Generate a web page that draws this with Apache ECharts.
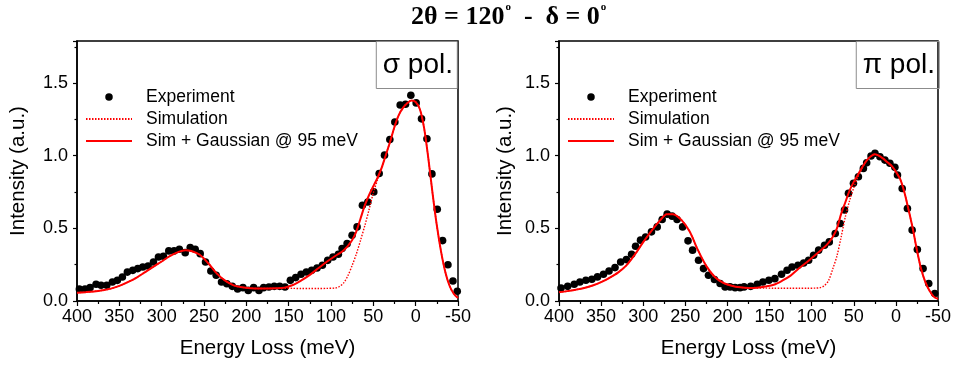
<!DOCTYPE html>
<html><head><meta charset="utf-8">
<script src="https://cdn.jsdelivr.net/npm/echarts@6/dist/echarts.min.js"></script>
<style>html,body{margin:0;padding:0;background:#fff}#c{width:954px;height:365px}</style>
</head><body><div id="c"></div>
<script>
// ---------- data ----------
const xTicks = [400, 350, 300, 250, 200, 150, 100, 50, 0, -50];
const yTicks = [0.0, 0.5, 1.0, 1.5];

// sigma polarisation: experiment
const sigmaExpE = [397.2,390.5,384.6,377.5,371.6,364.9,358.2,352.3,346.4,340.5,334.1,328.2,322.3,316.0,309.7,303.8,297.9,291.6,285.3,279.1,272.2,266.3,260.4,254.5,248.2,241.9,235.6,229.3,223.0,216.6,210.3,204.0,197.7,191.4,185.1,179.6,173.3,167.0,160.6,154.3,148.0,141.7,135.4,129.1,122.8,116.5,110.2,103.9,97.6,91.3,86.9,81.0,75.1,69.2,62.9,56.5,49.5,43.1,36.8,30.5,24.6,18.3,12.0,5.7,-0.6,-6.9,-13.3,-19.2,-25.5,-31.8,-38.1,-44.0,-49.1];
const sigmaExpI = [0.083,0.083,0.092,0.115,0.108,0.108,0.131,0.142,0.165,0.199,0.211,0.223,0.234,0.241,0.268,0.303,0.308,0.345,0.345,0.356,0.333,0.368,0.356,0.326,0.269,0.207,0.177,0.131,0.119,0.101,0.083,0.092,0.073,0.092,0.073,0.092,0.096,0.101,0.101,0.096,0.142,0.161,0.184,0.200,0.211,0.227,0.246,0.280,0.303,0.322,0.361,0.395,0.453,0.510,0.659,0.682,0.751,0.878,1.004,1.112,1.232,1.349,1.355,1.417,1.364,1.254,1.117,0.875,0.632,0.416,0.250,0.138,0.067];

// energy grid of the simulated curves (both panels)
const lineE = [400,390,380,370,360,350,340,330,320,310,300,290,280,272,265,255,245,235,225,215,205,195,185,175,165,155,145,135,125,115,105,95,90,85,80,75,70,65,60,55,50,45,40,35,30,25,20,15,10,5,0,-5,-10,-15,-20,-25,-30,-35,-40,-45,-50];

const sigmaFit = [0.057,0.061,0.066,0.074,0.085,0.104,0.130,0.160,0.197,0.235,0.272,0.310,0.338,0.349,0.344,0.318,0.260,0.190,0.140,0.108,0.094,0.088,0.086,0.086,0.087,0.092,0.110,0.142,0.180,0.225,0.270,0.310,0.328,0.350,0.380,0.420,0.480,0.570,0.660,0.730,0.790,0.850,0.920,1.010,1.100,1.200,1.280,1.330,1.362,1.380,1.370,1.320,1.190,0.980,0.740,0.520,0.340,0.200,0.105,0.050,0.020];
const sigmaSim = [0.057,0.061,0.066,0.074,0.085,0.104,0.130,0.160,0.197,0.235,0.272,0.310,0.338,0.349,0.344,0.318,0.260,0.190,0.140,0.108,0.094,0.088,0.086,0.086,0.087,0.088,0.087,0.086,0.086,0.086,0.087,0.089,0.100,0.125,0.175,0.245,0.325,0.420,0.520,0.630,0.745,0.835,0.915,1.010,1.100,1.200,1.280,1.330,1.362,1.380,1.370,1.320,1.190,0.980,0.740,0.520,0.340,0.200,0.105,0.050,0.020];

// pi polarisation: experiment
const piExpE = [397.6,389.7,381.9,375.2,368.1,361.0,354.3,347.2,340.6,333.5,326.8,320.0,313.8,309.1,303.2,297.2,290.2,283.4,277.5,271.6,265.7,259.8,253.2,246.8,241.4,234.3,228.4,222.5,215.4,208.7,202.8,196.9,190.9,185.0,180.3,172.4,164.6,157.9,150.8,143.7,135.8,129.2,123.3,116.2,109.5,103.6,97.7,91.7,84.7,79.1,72.0,66.1,61.0,56.3,50.4,44.5,38.6,34.7,29.5,24.8,18.9,13.0,7.1,1.2,-1.9,-7.5,-13.7,-19.3,-25.5,-32.3,-39.0,-46.1];
const piExpI = [0.090,0.101,0.115,0.131,0.143,0.150,0.166,0.184,0.207,0.230,0.269,0.285,0.322,0.377,0.419,0.441,0.476,0.510,0.561,0.598,0.584,0.561,0.510,0.414,0.350,0.281,0.223,0.177,0.148,0.120,0.097,0.097,0.092,0.092,0.097,0.101,0.115,0.131,0.143,0.154,0.184,0.212,0.234,0.246,0.262,0.281,0.315,0.350,0.384,0.407,0.465,0.534,0.626,0.741,0.810,0.855,0.913,0.952,0.998,1.017,0.993,0.970,0.948,0.920,0.867,0.775,0.637,0.488,0.354,0.223,0.120,0.051];

const piFit = [0.060,0.068,0.078,0.090,0.107,0.130,0.160,0.195,0.245,0.320,0.405,0.485,0.555,0.598,0.598,0.560,0.480,0.350,0.240,0.165,0.125,0.105,0.094,0.090,0.092,0.100,0.112,0.140,0.175,0.225,0.270,0.320,0.345,0.370,0.400,0.440,0.500,0.600,0.680,0.760,0.820,0.870,0.920,0.965,0.995,1.010,1.000,0.980,0.955,0.930,0.890,0.840,0.750,0.630,0.500,0.350,0.220,0.130,0.070,0.030,0.015];
const piSim = [0.060,0.068,0.078,0.090,0.107,0.130,0.160,0.195,0.245,0.320,0.405,0.485,0.555,0.598,0.598,0.560,0.480,0.350,0.240,0.165,0.125,0.105,0.094,0.090,0.090,0.089,0.088,0.088,0.088,0.088,0.088,0.089,0.092,0.105,0.140,0.220,0.310,0.440,0.580,0.690,0.780,0.855,0.915,0.965,0.995,1.010,1.000,0.980,0.955,0.930,0.890,0.840,0.750,0.630,0.500,0.350,0.220,0.130,0.070,0.030,0.015];

const names = ['Experiment', 'Simulation', 'Sim + Gaussian @ 95 meV'];
const panelLabels = ['σ pol.', 'π pol.'];

// ---------- chart ----------
const pair = (xs, ys) => xs.map((x, i) => [x, ys[i]]);
const FONT = 'Liberation Sans';

function xAxisCfg(gi) {
  return {
    gridIndex: gi, type: 'value', inverse: true, min: -50, max: 400, interval: 50,
    name: 'Energy Loss (meV)', nameLocation: 'middle', nameGap: 37,
    nameTextStyle: { fontSize: 20.5, fontFamily: FONT, color: '#000' },
    axisLine: { show: true, onZero: false, lineStyle: { color: '#000', width: 1.5 } },
    axisTick: { show: true, length: 5, lineStyle: { color: '#000', width: 1.2 } },
    minorTick: { show: true, splitNumber: 2, length: 3, lineStyle: { color: '#000', width: 1.2 } },
    axisLabel: { fontSize: 18, fontFamily: FONT, color: '#000', margin: 7,
      formatter: v => (xTicks.indexOf(v) >= 0 ? String(v) : '') },
    splitLine: { show: false }
  };
}
function yAxisCfg(gi, gap) {
  return {
    gridIndex: gi, type: 'value', min: 0, max: 1.79, interval: 0.5,
    name: 'Intensity (a.u.)', nameLocation: 'middle', nameGap: gap,
    nameTextStyle: { fontSize: 20.5, fontFamily: FONT, color: '#000' },
    axisLine: { show: true, onZero: false, lineStyle: { color: '#000', width: 1.5 } },
    axisTick: { show: true, length: 4, lineStyle: { color: '#000', width: 1.2 } },
    minorTick: { show: true, splitNumber: 2, length: 2.5, lineStyle: { color: '#000', width: 1.2 } },
    axisLabel: { fontSize: 18, fontFamily: FONT, color: '#000', margin: 9, showMaxLabel: false,
      formatter: v => (yTicks.some(t => Math.abs(t - v) < 1e-9) ? v.toFixed(1) : '') },
    splitLine: { show: false }
  };
}
function seriesFor(gi, expE, expI, sim, fit) {
  return [
    { name: names[0], type: 'scatter', xAxisIndex: gi, yAxisIndex: gi,
      data: pair(expE, expI), symbol: 'circle', symbolSize: 7.6,
      itemStyle: { color: '#000', opacity: 1 }, z: 2 },
    { name: names[1], type: 'line', xAxisIndex: gi, yAxisIndex: gi,
      data: pair(lineE, sim), smooth: 0.3, symbol: 'none', showSymbol: false,
      lineStyle: { color: '#ff0000', width: 1.4, type: [1.5, 1.5] }, itemStyle: { color: '#ff0000' }, z: 3 },
    { name: names[2], type: 'line', xAxisIndex: gi, yAxisIndex: gi,
      data: pair(lineE, fit), smooth: 0.3, symbol: 'none', showSymbol: false,
      lineStyle: { color: '#ff0000', width: 2 }, itemStyle: { color: '#ff0000' }, z: 4 }
  ];
}
function legendCfg(left) {
  return {
    left: left, top: 88, orient: 'vertical', itemWidth: 46, itemHeight: 7.5, itemGap: 4,
    padding: 0, selectedMode: false,
    data: [
      { name: names[0], itemStyle: { color: '#000', opacity: 1 } },
      { name: names[1], itemStyle: { opacity: 0 } },
      { name: names[2], itemStyle: { opacity: 0 } }
    ],
    textStyle: { fontSize: 17.5, fontFamily: FONT, color: '#000', padding: [0, 0, 0, 9] }
  };
}
function boxTitle(right, text) {
  return {
    text: text, right: right, top: 41, padding: [8, 5, 8, 7],
    borderColor: '#8c8c8c', borderWidth: 1,
    textStyle: { fontSize: 28, lineHeight: 32, fontWeight: 'normal', fontFamily: FONT, color: '#000' }
  };
}

const chart = echarts.init(document.getElementById('c'), null, { renderer: 'canvas' });
chart.setOption({
  animation: false,
  backgroundColor: '#fff',
  title: [
    { text: '{a|2θ = 120}{s|o}{a|  -  δ = 0}{s|o}', left: 411, top: 2, padding: 0,
      textStyle: { rich: {
        a: { fontSize: 26, fontWeight: 'bold', fontFamily: 'Liberation Serif', color: '#000', lineHeight: 30 },
        s: { fontSize: 11, fontFamily: 'Liberation Serif', color: '#000', verticalAlign: 'top', lineHeight: 12, padding: [0, 0, 0, 1] }
      } } },
    boxTitle(496, panelLabels[0]),
    boxTitle(14, panelLabels[1])
  ],
  legend: [legendCfg(85), legendCfg(567)],
  grid: [
    { left: 77, right: 496, top: 41, bottom: 64, show: true, borderColor: '#000', borderWidth: 1.5, containLabel: false },
    { left: 559, right: 14, top: 41, bottom: 64, show: true, borderColor: '#000', borderWidth: 1.5, containLabel: false }
  ],
  xAxis: [xAxisCfg(0), xAxisCfg(1)],
  yAxis: [yAxisCfg(0, 48), yAxisCfg(1, 43)],
  series: [].concat(
    seriesFor(0, sigmaExpE, sigmaExpI, sigmaSim, sigmaFit),
    seriesFor(1, piExpE, piExpI, piSim, piFit)
  )
});
</script></body></html>
